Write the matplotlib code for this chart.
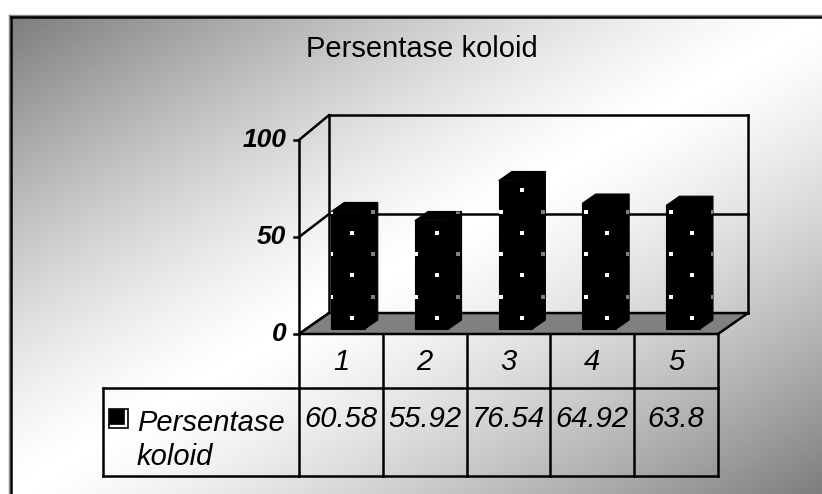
import numpy as np
import matplotlib.pyplot as plt
from matplotlib.patches import Polygon, Rectangle
from matplotlib import transforms

# data
kategori = ['1', '2', '3', '4', '5']
nilai = [60.58, 55.92, 76.54, 64.92, 63.8]
label_nilai = ['60.58', '55.92', '76.54', '64.92', '63.8']
nama_seri = 'Persentase koloid'
judul = 'Persentase koloid'
yticks = [0, 50, 100]

plt.rcParams['font.family'] = ['Liberation Sans', 'DejaVu Sans']

W, H = 822, 494
fig = plt.figure(figsize=(W / 100, H / 100), dpi=100)

# background layer, pixel units
bg = fig.add_axes([0, 0, 1, 1])
yy, xx = np.mgrid[0:1:300j, 0:1:500j]
t = np.abs(xx + yy - 1)
grad = 255 - 130 * t ** 1.3
bg.imshow(grad, cmap='gray', vmin=0, vmax=255, extent=(11, W, H, 17),
          aspect='auto', interpolation='bilinear', zorder=0)
bg.set_xlim(0, W)
bg.set_ylim(H, 0)
bg.axis('off')
bg.plot([9, W], [15, 15], color='#888888', lw=1, zorder=1)
bg.plot([9, 9], [15, H], color='#888888', lw=1, zorder=1)
bg.plot([11, W], [17.5, 17.5], color='black', lw=1.8, zorder=2)
bg.plot([11, 11], [17.5, H], color='black', lw=1.8, zorder=2)

bg.text(422, 49, judul, ha='center', va='center', fontsize=21)

# chart axes: x = category, y = value
ax = fig.add_axes([299 / W, 1 - 334 / H, 419 / W, 194 / H])
ax.set_xlim(0, 5)
ax.set_ylim(0, 100)
ax.axis('off')

n = len(kategori)
DX, DY, BK = 0.358, 10.8, 1.02
LW = 1.8

# floor
ax.add_patch(Polygon([(0, 0), (n, 0), (n + DX, DY), (DX, DY)], closed=True,
                     fc='#808080', ec='black', lw=LW, clip_on=False, zorder=2))
# back wall and side wall
for y in yticks:
    ax.plot([DX, n + DX], [DY + y * BK] * 2, color='black', lw=LW, clip_on=False, zorder=1)
    ax.plot([0, DX], [y, DY + y * BK], color='black', lw=LW, clip_on=False, zorder=1)
    ax.plot([-0.06, 0], [y, y], color='black', lw=LW, clip_on=False, zorder=1)
    ax.text(-0.15, y, str(y), ha='right', va='center', fontsize=19,
            weight='bold', style='italic')
for xb in [DX, n + DX]:
    ax.plot([xb, xb], [DY, DY + 100 * BK], color='black', lw=LW, clip_on=False, zorder=1)
ax.plot([0, 0], [0, 100], color='black', lw=LW, clip_on=False, zorder=1)

# dot pattern lattice (data units)
gx, gy = 0.507, 21.9
kk, jj = np.meshgrid(np.arange(-2, 13), np.arange(-4, 6))
px1, py1 = 0.632 + gx * kk.ravel(), 52.1 + gy * jj.ravel()
pts_x = np.concatenate([px1, px1 + gx / 2])
pts_y = np.concatenate([py1, py1 + gy / 2])

# bars
f0, f1 = 0.23, 0.67
for i, v in enumerate(nilai):
    x0, x1 = i + 0.3, i + 0.7
    front = [(x0 + f0 * DX, f0 * DY), (x1 + f0 * DX, f0 * DY),
             (x1 + f0 * DX, v + f0 * DY), (x0 + f0 * DX, v + f0 * DY)]
    side = [(x1 + f0 * DX, f0 * DY), (x1 + f1 * DX, f1 * DY),
            (x1 + f1 * DX, v + f1 * DY), (x1 + f0 * DX, v + f0 * DY)]
    top = [(x0 + f0 * DX, v + f0 * DY), (x1 + f0 * DX, v + f0 * DY),
           (x1 + f1 * DX, v + f1 * DY), (x0 + f1 * DX, v + f1 * DY)]
    for poly, dot in [(front, 'white'), (side, '#808080'), (top, '#808080')]:
        p = Polygon(poly, closed=True, fc='black', ec='black', lw=0.8,
                    clip_on=False, zorder=3)
        ax.add_patch(p)
        sc = ax.scatter(pts_x, pts_y, s=9, marker='s', c=dot, linewidths=0, zorder=4)
        sc.set_clip_path(p)

# data table
tr = transforms.blended_transform_factory(ax.transData, bg.transData)
LEG = (103 - 299) / 83.8
for xb in range(n + 1):
    ax.plot([xb, xb], [334, 476], color='black', lw=LW, transform=tr, clip_on=False)
ax.plot([LEG, LEG], [388, 476], color='black', lw=LW, transform=tr, clip_on=False)
for yb in [388, 476]:
    ax.plot([LEG, n], [yb, yb], color='black', lw=LW, transform=tr, clip_on=False)
for i in range(n):
    ax.text(i + 0.5, 362, kategori[i], transform=tr, ha='center', va='center',
            fontsize=21, style='italic')
    ax.text(i + 0.5, 419, label_nilai[i], transform=tr, ha='center', va='center',
            fontsize=21, style='italic')

# legend key + series name
bg.add_patch(Rectangle((109, 409), 19, 19, fc='white', ec='black', lw=1.2, zorder=3))
bg.add_patch(Rectangle((109, 409), 15, 15, fc='black', ec='black', lw=0.5, zorder=4))
bg.text(137, 440, nama_seri.replace(' ', '\n'), ha='left', va='center',
        fontsize=21, style='italic', linespacing=1.3)

fig.savefig('out.png', dpi=100)
